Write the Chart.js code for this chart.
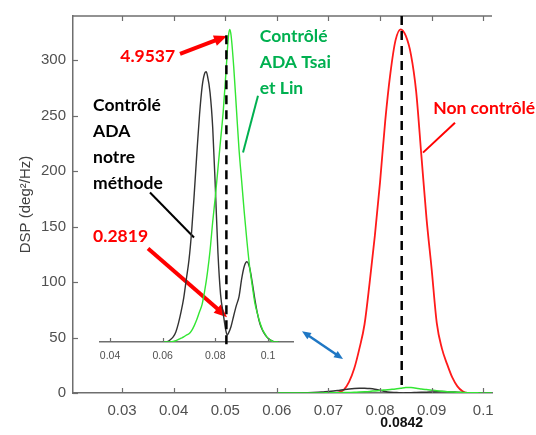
<!DOCTYPE html>
<html>
<head>
<meta charset="utf-8">
<script src="https://cdn.jsdelivr.net/npm/chart.js@4.4.1/dist/chart.umd.min.js"></script>
<style>
html,body{margin:0;padding:0;background:#fff;}
#wrap{position:relative;width:536px;height:435px;overflow:hidden;}
#wrap canvas{position:absolute;left:0;top:0;}
</style>
</head>
<body>
<div id="wrap">
<canvas id="mainChart" width="536" height="435"></canvas>
<canvas id="insetChart" width="536" height="435"></canvas>
</div>
<script>
// ---------------- data ----------------
// Non contrôlé (red)
const redX = [0.070,0.071,0.072,0.073,0.074,0.075,0.076,0.077,0.078,0.079,0.080,0.081,0.082,0.083,0.084,0.085,0.086,0.087,0.088,0.089,0.090,0.091,0.092,0.093,0.094,0.095,0.096,0.097,0.098];
const redY = [0,0,0.5,3,10,22,40,62,100,142,190,245,288,318,328,322,305,272,215,158,112,63,40,26,14,6,1.5,0,0];

// Contrôlé ADA Tsai et Lin (green)
const greenX = [0.060,0.062,0.064,0.065,0.066,0.067,0.068,0.069,0.070,0.071,0.072,0.073,0.074,0.075,0.076,0.077,0.078,0.079,0.080,0.081,0.082,0.083,0.084,0.085,0.0855,0.086,0.087,0.088,0.089,0.090,0.091,0.092,0.093,0.094,0.095,0.096,0.097,0.098,0.099,0.100,0.101,0.102,0.104];
const greenY = [0,0,0.01,0.02,0.04,0.06,0.08,0.11,0.13,0.18,0.26,0.36,0.48,0.60,0.82,1.1,1.45,1.9,2.3,2.75,3.2,3.65,4.25,4.85,4.95,4.85,4.35,3.7,3.05,2.55,2.05,1.6,1.2,0.9,0.62,0.45,0.3,0.19,0.12,0.06,0.03,0,0];

// Contrôlé ADA notre méthode (black)
const blackX = [0.060,0.061,0.062,0.063,0.064,0.065,0.066,0.067,0.068,0.069,0.070,0.071,0.072,0.073,0.074,0.075,0.076,0.0765,0.077,0.078,0.079,0.080,0.081,0.082,0.083,0.084,0.0845,0.085,0.086,0.087,0.088,0.089,0.090,0.091,0.092,0.093,0.094,0.095,0.096,0.097,0.098,0.099,0.100,0.101,0.102,0.103,0.104];
const blackY = [0,0,0.01,0.04,0.08,0.16,0.30,0.48,0.70,1.0,1.3,1.75,2.35,3.0,3.6,4.05,4.26,4.28,4.22,3.95,3.4,2.45,1.41,0.75,0.45,0.18,0.11,0.14,0.25,0.42,0.58,0.72,1.0,1.2,1.27,1.18,0.95,0.68,0.45,0.28,0.18,0.11,0.06,0.03,0.01,0,0];

// axes
const mainXTicks = [0.03,0.04,0.05,0.06,0.07,0.08,0.09,0.1];
const mainYTicks = [0,50,100,150,200,250,300];
const insetXTicks = [0.04,0.06,0.08,0.1];
const markedFreq = 0.0842;
const markedFreqLabel = '0.0842';
const yTitle = 'DSP (deg\u00B2/Hz)';

// ---------------- styles ----------------
const RED = '#ff0000';
const RED_LINE = '#ff1a1a';
const GREEN_LINE = '#33e633';
const GREEN_TXT = '#00b050';
const BLACK_LINE = '#333333';
const BLUE = '#1f77c4';
const AXIS = '#6e6e6e';
const TICKTXT = '#505050';
const NOTE_FONT = 'bold 17.5px Lato';

// annotations (anchored in main-chart data units)
const noteTexts = [
  {lines:['4.9537'], x:0.0403, y:304, color:RED, align:'right'},
  {lines:['Contrôlé','ADA Tsai','et Lin'], x:0.0567, y:322, color:GREEN_TXT, align:'left'},
  {lines:['Contrôlé','ADA','notre','méthode'], x:0.0244, y:259, color:'#000', align:'left'},
  {lines:['0.2819'], x:0.0244, y:141, color:RED, align:'left'},
  {lines:['Non contrôlé'], x:0.0903, y:257, color:RED, align:'left'}
];
const noteArrows = [
  {from:[0.04124,305.8], to:[0.05035,322], color:RED, width:4, head:13, both:false},
  {from:[0.03504,130.4], to:[0.05035,68.4], color:RED, width:4, head:13, both:false},
  {from:[0.05635,268], to:[0.05345,216.8], color:GREEN_TXT, width:2, head:0, both:false},
  {from:[0.03542,180.8], to:[0.04395,140.3], color:'#000', width:2, head:0, both:false},
  {from:[0.09453,243.7], to:[0.08833,216.8], color:RED, width:2, head:0, both:false},
  {from:[0.06488,55.8], to:[0.07283,30.6], color:BLUE, width:2.5, head:9, both:true}
];

function pts(xs, ys){ return xs.map((x,i)=>({x:x, y:ys[i]})); }

function seg(ctx,x1,y1,x2,y2){ ctx.beginPath(); ctx.moveTo(x1,y1); ctx.lineTo(x2,y2); ctx.stroke(); }

function arrowHead(ctx, tx, ty, ux, uy, len, color){
  const w = len*0.42;
  const bx = tx-ux*len, by = ty-uy*len;
  ctx.fillStyle = color;
  ctx.beginPath();
  ctx.moveTo(tx,ty);
  ctx.lineTo(bx - uy*w, by + ux*w);
  ctx.lineTo(bx + uy*w, by - ux*w);
  ctx.closePath();
  ctx.fill();
}

function drawArrow(ctx, x1,y1,x2,y2, a){
  const dx=x2-x1, dy=y2-y1, L=Math.hypot(dx,dy), ux=dx/L, uy=dy/L;
  let sx=x1, sy=y1, ex=x2, ey=y2;
  if (a.head>0){ ex = x2-ux*a.head*0.8; ey = y2-uy*a.head*0.8; }
  if (a.head>0 && a.both){ sx = x1+ux*a.head*0.8; sy = y1+uy*a.head*0.8; }
  ctx.strokeStyle=a.color; ctx.lineWidth=a.width; ctx.lineCap='butt';
  seg(ctx,sx,sy,ex,ey);
  if (a.head>0){
    arrowHead(ctx,x2,y2,ux,uy,a.head,a.color);
    if (a.both) arrowHead(ctx,x1,y1,-ux,-uy,a.head,a.color);
  }
}

const mainDecor = {
  id:'mainDecor',
  afterDatasetsDraw(chart){
    const {ctx, chartArea:a, scales:{x,y}} = chart;
    ctx.save();
    // top box line
    ctx.strokeStyle = AXIS; ctx.lineWidth = 1.5;
    seg(ctx, a.left, a.top, a.right, a.top);
    // inward ticks
    ctx.lineWidth = 1.2;
    mainXTicks.forEach(v=>{
      const px = Math.round(x.getPixelForValue(v))+0.5;
      seg(ctx, px, a.bottom, px, a.bottom-5);
      seg(ctx, px, a.top, px, a.top+5);
    });
    mainYTicks.forEach(v=>{
      const py = Math.round(y.getPixelForValue(v))+0.5;
      seg(ctx, a.left, py, a.left+5, py);
    });
    // dashed marker line
    const dx = x.getPixelForValue(markedFreq);
    ctx.strokeStyle = '#000'; ctx.lineWidth = 2.5; ctx.setLineDash([9,6]);
    seg(ctx, dx, a.top, dx, y.getPixelForValue(6));
    ctx.setLineDash([]);
    // marker label
    ctx.fillStyle = '#111'; ctx.font = 'bold 14px "Liberation Sans", Arial, sans-serif';
    ctx.textAlign = 'center'; ctx.textBaseline = 'middle';
    ctx.fillText(markedFreqLabel, dx, a.bottom + 30);
    // annotation texts
    ctx.font = NOTE_FONT;
    noteTexts.forEach(t=>{
      const px = x.getPixelForValue(t.x), py = y.getPixelForValue(t.y);
      ctx.fillStyle = t.color; ctx.textAlign = t.align; ctx.textBaseline = 'middle';
      t.lines.forEach((l,i)=> ctx.fillText(l, px, py + i*26));
    });
    // arrows and leader lines
    noteArrows.forEach(ar=>{
      drawArrow(ctx, x.getPixelForValue(ar.from[0]), y.getPixelForValue(ar.from[1]),
                     x.getPixelForValue(ar.to[0]), y.getPixelForValue(ar.to[1]), ar);
    });
    ctx.restore();
  }
};

const mainChart = new Chart(document.getElementById('mainChart'), {
  type:'line',
  data:{
    datasets:[
      {data:pts(greenX,greenY), borderColor:GREEN_LINE, borderWidth:1.5, pointRadius:0, cubicInterpolationMode:'monotone', fill:false},
      {data:pts(blackX,blackY), borderColor:BLACK_LINE, borderWidth:1.5, pointRadius:0, cubicInterpolationMode:'monotone', fill:false},
      {data:pts(redX,redY), borderColor:RED_LINE, borderWidth:1.8, pointRadius:0, cubicInterpolationMode:'monotone', fill:false}
    ]
  },
  options:{
    responsive:false, animation:false, devicePixelRatio:1,
    layout:{padding:{left:0, right:44, top:15, bottom:0}},
    plugins:{legend:{display:false}, tooltip:{enabled:false}},
    scales:{
      x:{
        type:'linear', min:0.0205, max:0.1017,
        afterBuildTicks:s=>{ s.ticks = mainXTicks.map(v=>({value:v})); },
        afterFit:s=>{ s.height = 42; },
        ticks:{autoSkip:false, maxRotation:0, padding:9, color:TICKTXT,
               font:{family:'"Liberation Sans", Arial, sans-serif', size:15},
               callback:v=>String(v)},
        grid:{display:false, drawTicks:false},
        border:{display:true, color:AXIS, width:1.5}
      },
      y:{
        type:'linear', min:0, max:340,
        afterBuildTicks:s=>{ s.ticks = mainYTicks.map(v=>({value:v})); },
        afterFit:s=>{ s.width = 73; },
        ticks:{padding:7, color:TICKTXT,
               font:{family:'"Liberation Sans", Arial, sans-serif', size:15},
               callback:v=>String(v)},
        grid:{display:false, drawTicks:false},
        border:{display:true, color:AXIS, width:1.5},
        title:{display:true, text:yTitle, color:'#404040', padding:{top:17,bottom:0},
               font:{family:'"Liberation Sans", Arial, sans-serif', size:15}}
      }
    }
  },
  plugins:[mainDecor]
});

const insetDecor = {
  id:'insetDecor',
  afterDatasetsDraw(chart){
    const {ctx, chartArea:a, scales:{x,y}} = chart;
    ctx.save();
    ctx.strokeStyle = AXIS; ctx.lineWidth = 1.2;
    insetXTicks.forEach(v=>{
      const px = Math.round(x.getPixelForValue(v))+0.5;
      seg(ctx, px, a.bottom, px, a.bottom-4);
    });
    const dx = x.getPixelForValue(markedFreq);
    ctx.strokeStyle = '#000'; ctx.lineWidth = 2.5; ctx.setLineDash([9,6]);
    seg(ctx, dx, y.getPixelForValue(4.86), dx, y.getPixelForValue(-0.1));
    ctx.setLineDash([]);
    ctx.restore();
  }
};

const insetChart = new Chart(document.getElementById('insetChart'), {
  type:'line',
  data:{
    datasets:[
      {data:pts(greenX,greenY), borderColor:GREEN_LINE, borderWidth:1.4, pointRadius:0, cubicInterpolationMode:'monotone', fill:false},
      {data:pts(blackX,blackY), borderColor:BLACK_LINE, borderWidth:1.4, pointRadius:0, cubicInterpolationMode:'monotone', fill:false}
    ]
  },
  options:{
    responsive:false, animation:false, devicePixelRatio:1,
    layout:{padding:{left:100, right:243, top:20, bottom:0}},
    plugins:{legend:{display:false}, tooltip:{enabled:false}},
    scales:{
      x:{
        type:'linear', min:0.0362, max:0.1095,
        afterBuildTicks:s=>{ s.ticks = insetXTicks.map(v=>({value:v})); },
        afterFit:s=>{ s.height = 93; },
        ticks:{autoSkip:false, maxRotation:0, padding:8, color:TICKTXT,
               font:{family:'"Liberation Sans", Arial, sans-serif', size:10.5},
               callback:v=>String(v)},
        grid:{display:false, drawTicks:false},
        border:{display:true, color:AXIS, width:1.5}
      },
      y:{ type:'linear', min:0, max:5.1, display:false }
    }
  },
  plugins:[insetDecor]
});
</script>
</body>
</html>
